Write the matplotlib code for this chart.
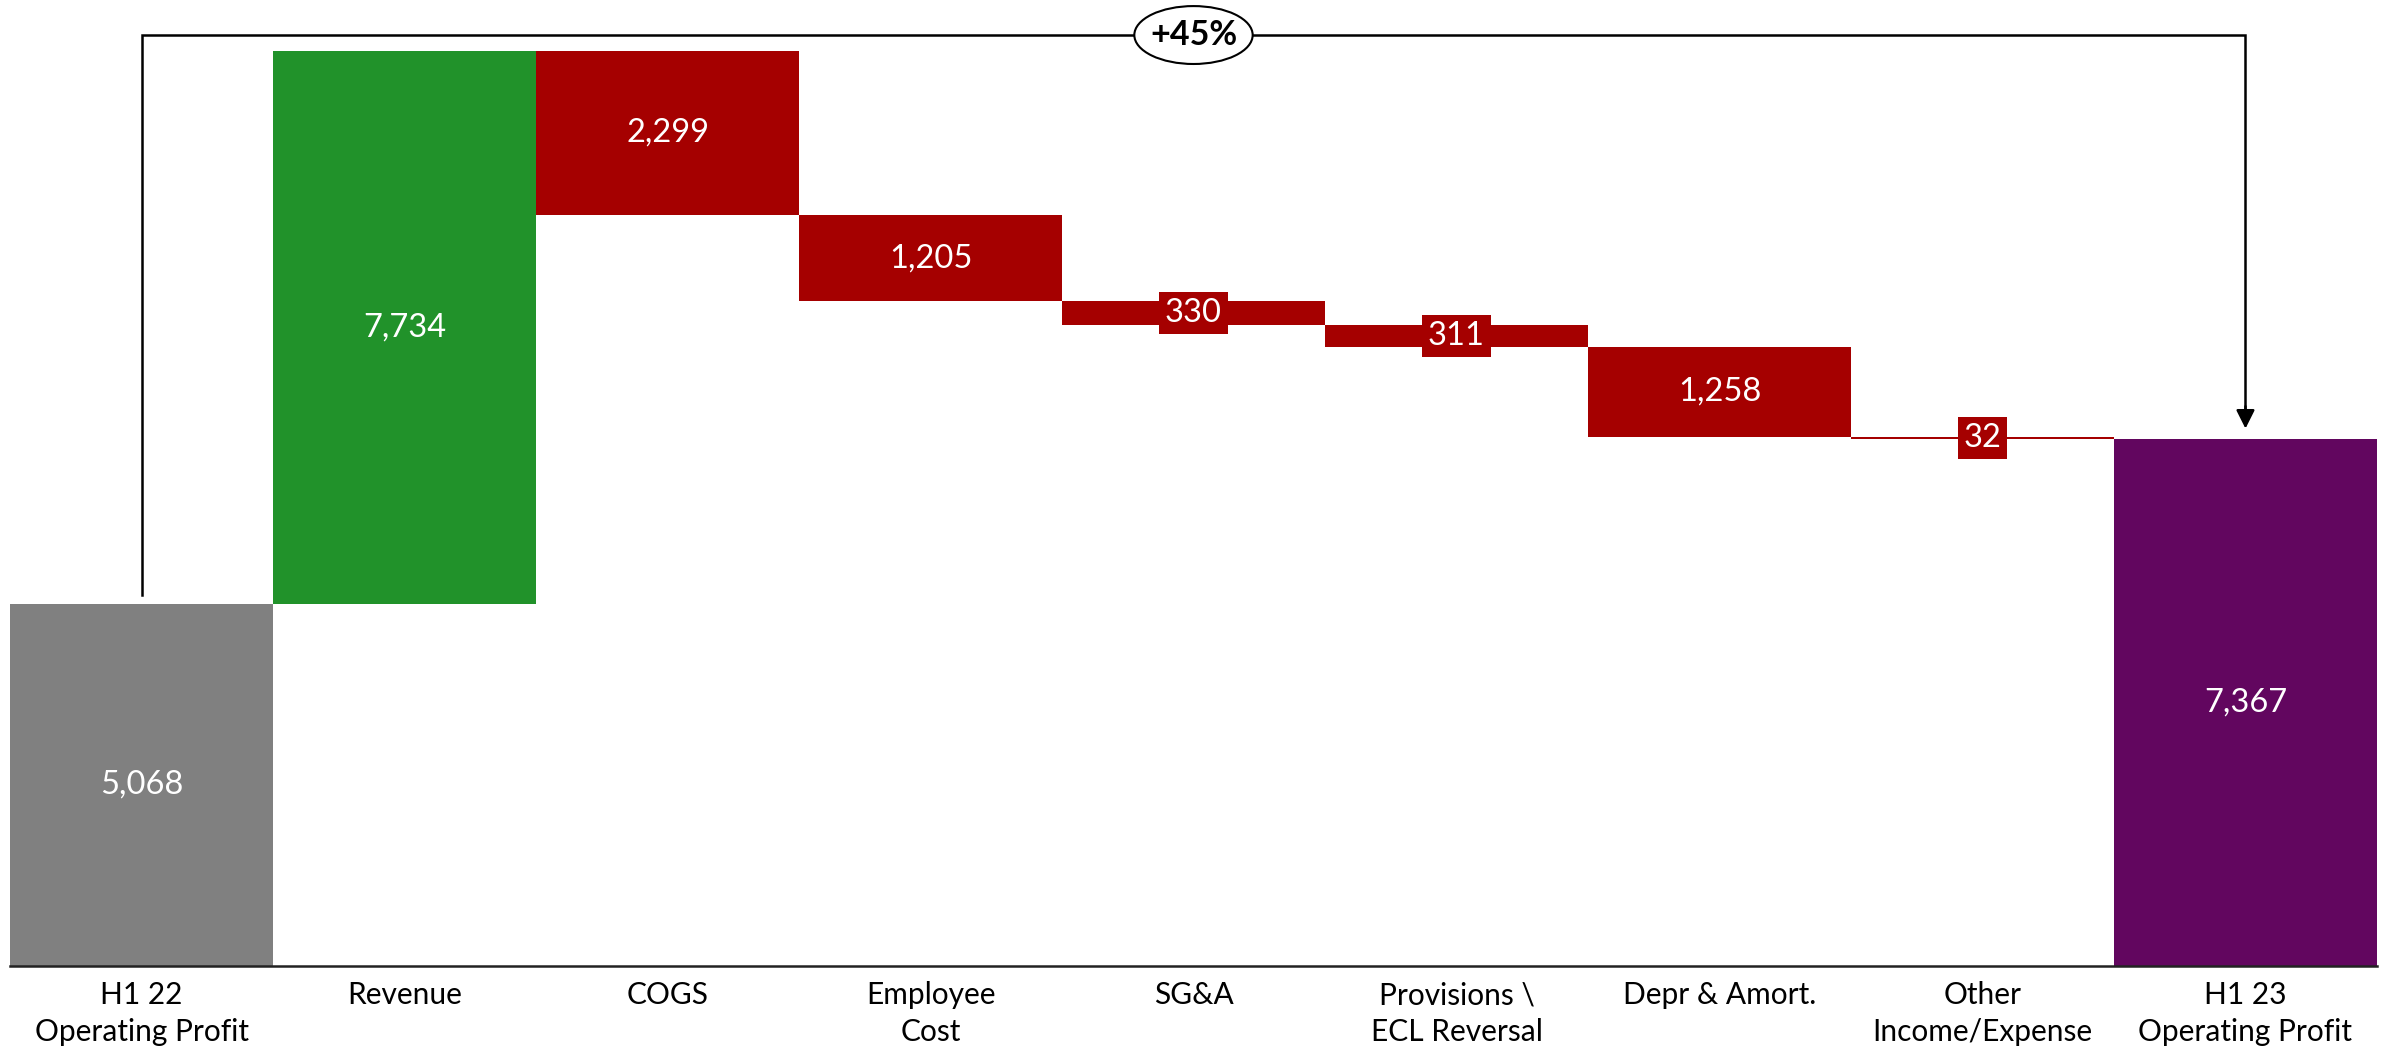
import numpy as np
import matplotlib
matplotlib.use('Agg')
import matplotlib.pyplot as plt
from matplotlib.patches import Ellipse

plt.rcParams['font.family'] = ['Lato', 'DejaVu Sans']

categories = ["H1 22\nOperating Profit", "Revenue", "COGS", "Employee\nCost", "SG&A",
              "Provisions \\\nECL Reversal", "Depr & Amort.", "Other\nIncome/Expense",
              "H1 23\nOperating Profit"]
start_value = 5068
changes = [7734, -2299, -1205, -330, -311, -1258, -32]
end_value = 7367
growth_label = "+45%"

GREY = '#808080'
GREEN = '#21922A'
RED = '#A50000'
PURPLE = '#62065F'

# floating bars for the bridge
bottoms = [0]
heights = [start_value]
colors = [GREY]
running = start_value
for c in changes:
    if c >= 0:
        bottoms.append(running)
        heights.append(c)
        colors.append(GREEN)
    else:
        bottoms.append(running + c)
        heights.append(-c)
        colors.append(RED)
    running += c
bottoms.append(0)
heights.append(end_value)
colors.append(PURPLE)

x = np.arange(len(categories))

fig = plt.figure(figsize=(23.87, 10.46), dpi=100)
ax = fig.add_axes([0.0042, 0.0765, 0.9916, 0.9235])
ax.bar(x, heights, bottom=bottoms, width=1.0, color=colors, edgecolor='none')

ax.set_xlim(-0.5, len(categories) - 0.5)
ax.set_ylim(0, 13510)

# value labels, small ones get a red box
for i, (b, h) in enumerate(zip(bottoms, heights)):
    label = f"{h:,}"
    y = b + h / 2
    if h < 600:
        ax.text(i, y, label, ha='center', va='center', color='white', fontsize=23.5,
                bbox=dict(boxstyle='square,pad=0.18', facecolor=RED, edgecolor='none'))
    else:
        ax.text(i, y, label, ha='center', va='center', color='white', fontsize=23.5)

# bracket + growth bubble
top_y = 13020
last = len(x) - 1
ax.plot([0, 0, last, last], [start_value + 120, top_y, top_y, end_value + 400],
        color='black', lw=1.8, clip_on=False, solid_joinstyle='miter')
ax.annotate('', xy=(last, end_value + 110), xytext=(last, end_value + 500),
            arrowprops=dict(arrowstyle='-|>', color='black', lw=1.8, mutation_scale=28))
mid = last / 2
ax.add_patch(Ellipse((mid, top_y), 0.45, 810, facecolor='white', edgecolor='black', lw=1.5,
                     zorder=5, clip_on=False))
ax.text(mid, top_y, growth_label, ha='center', va='center', fontsize=24.5, fontweight='bold',
        zorder=6)

ax.set_xticks(x)
ax.set_xticklabels(categories, fontsize=21.5, linespacing=1.4)
ax.tick_params(axis='x', length=0, pad=11)
ax.set_yticks([])
for s in ['left', 'right', 'top']:
    ax.spines[s].set_visible(False)
ax.spines['bottom'].set_linewidth(1.8)
ax.spines['bottom'].set_color('#222222')

fig.savefig('out.png', dpi=100)
